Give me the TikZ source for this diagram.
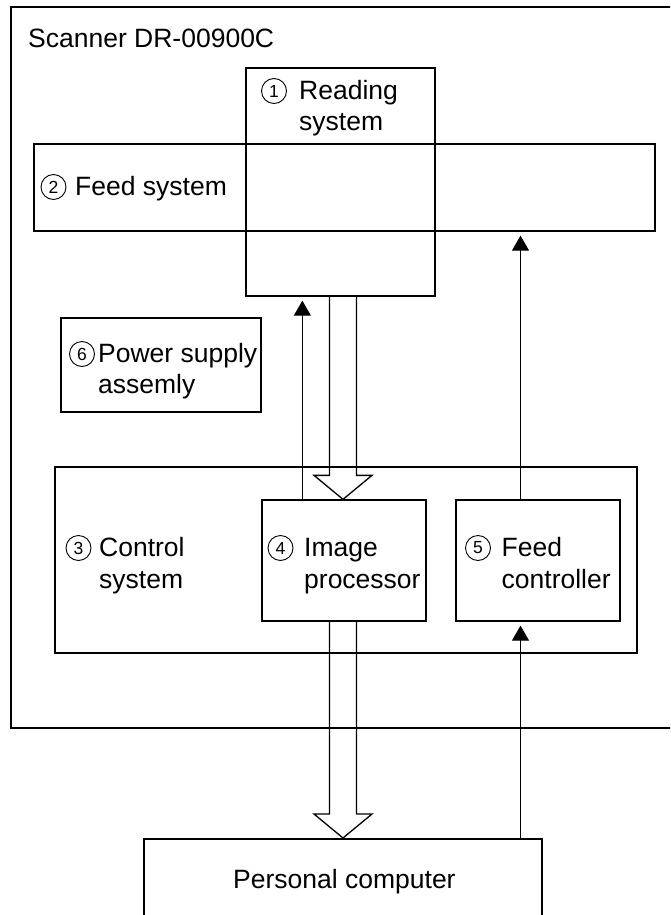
\documentclass[tikz,border=0pt]{standalone}
\usepackage{fontspec}
\setmainfont{Liberation Sans}
\usetikzlibrary{arrows.meta,calc}

\newcommand{\hollowarrow}[2]{%
  \draw[hollow] let \p1=#1, \p2=#2 in
    (\x1-13.5pt,\y1) -- (\x1-13.5pt,\y2+24pt) -- (\x1-29pt,\y2+24pt) -- (\x2,\y2)
    -- (\x1+29pt,\y2+24pt) -- (\x1+13.5pt,\y2+24pt) -- (\x1+13.5pt,\y1);}

\begin{document}
\begin{tikzpicture}[x=1pt,y=-1pt,
    box/.style={draw,line width=1.3pt,inner sep=0pt},
    lbl/.style={anchor=base west,inner sep=0pt,align=left,font=\fontsize{26.5pt}{31.5pt}\selectfont},
    circ/.style={circle,draw,line width=0.9pt,minimum size=25pt,inner sep=0pt,font=\fontsize{17.5pt}{17.5pt}\selectfont},
    thin/.style={line width=1pt,-{Triangle[length=15pt,width=17pt]},shorten >=4pt},
    hollow/.style={line width=1.3pt,line join=miter}]
      \useasboundingbox (0,0) rectangle (670,915);
      \clip (0,0) rectangle (670,915);
      \draw[line width=2pt] (11,7) rectangle (700,728);
      \node[box,minimum width=189pt,minimum height=228pt] (read) at (340.5,182) {};
      \node[box,minimum width=621pt,minimum height=87pt] (feed) at (344.5,187.5) {};
      \node[box,minimum width=200pt,minimum height=94pt] (power) at (161,365) {};
      \node[box,minimum width=582pt,minimum height=186pt] (ctrl) at (346,560) {};
      \node[box,minimum width=164pt,minimum height=121pt] (img) at (344,560.5) {};
      \node[box,minimum width=164pt,minimum height=121pt] (fctl) at (538,560.5) {};
      \node[draw,line width=2pt,inner sep=0pt,minimum width=398pt,minimum height=160pt] (pc) at (343,919) {};
      \node[lbl] (scannertxt) at (28,48) {Scanner DR-00900C};
      \node[circ] (n1) at (274,91) {1};
      \node[lbl] (readtxt) at (299,130.5) {Reading\\system};
      \node[circ] (n2) at (53.5,187) {2};
      \node[lbl] (feedtxt) at (75,195) {Feed system};
      \node[circ] (n6) at (82,354) {6};
      \node[lbl] (powertxt) at (98,393.5) {Power supply\\assemly};
      \node[circ] (n3) at (78.5,548) {3};
      \node[lbl] (ctrltxt) at (99,588) {Control\\system};
      \node[circ] (n4) at (280.5,548) {4};
      \node[lbl] (imgtxt) at (304,588) {Image\\processor};
      \node[circ] (n5) at (478,548) {5};
      \node[lbl] (fctltxt) at (501.5,588) {Feed\\controller};
      \node[lbl] (pctxt) at (233,888) {Personal computer};
      \draw[thin] ($(img.north west)+(41,0)$) coordinate (u) -- (u |- read.south);
      \draw[thin] ($(fctl.north)+(-17.5,0)$) coordinate (f) -- (f |- feed.south);
      \draw[thin] (pc.north -| f) -- (fctl.south -| f);
      \hollowarrow{(read.south -| pc.north)}{(img.north -| pc.north)}
      \hollowarrow{(img.south -| pc.north)}{(pc.north)}
\end{tikzpicture}
\end{document}
